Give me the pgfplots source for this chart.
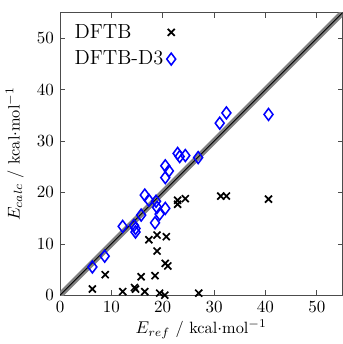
\documentclass[border=0pt]{standalone}
\usepackage{pgfplots}
\pgfplotsset{compat=1.18}
\begin{document}
\begin{tikzpicture}
\begin{axis}[
  name=ax,
  scale only axis,
  width=166pt, height=166pt,
  xmin=0, xmax=55, ymin=0, ymax=55,
  xtick={0,10,20,30,40,50}, ytick={0,10,20,30,40,50},
  tick align=inside,
  tick pos=both,
  major tick length=2.8pt,
  axis line style={gray!60!black, line width=0.5pt},
  every tick/.style={gray!60!black, line width=0.4pt},
  label style={font=\fontsize{9.6}{11}\selectfont},
  xlabel={$E_{ref}$ / kcal$\cdot$mol$^{-1}$},
  ylabel={$E_{calc}$ / kcal$\cdot$mol$^{-1}$},
  xlabel style={yshift=2.5pt},
  ylabel style={yshift=1pt},
  legend plot pos=right,
  legend cell align=left,
  legend style={draw=none, fill=none, font=\fontsize{12}{14}\selectfont, at={(0.02,0.985)}, anchor=north west, row sep=2pt},
  clip=true,
]
\addplot[gray, line width=3.5pt, forget plot] coordinates {(0,0) (55,55)};
\addplot[black, line width=0.5pt, forget plot] coordinates {(0,0) (55,55)};
\addplot[only marks, mark=x, mark size=2.9pt, black, line width=1pt] coordinates {
(6.3,1.2) (8.8,4.0) (12.2,0.7) (14.5,1.5) (14.7,1.2) (16.5,0.7) (15.8,3.6)
(18.5,3.8) (19.4,0.4) (20.4,0.0) (27.0,0.4) (17.3,10.8) (18.9,11.7) (20.7,11.4)
(18.9,8.6) (20.5,6.2) (21.0,5.7) (22.9,18.5) (24.4,18.8) (22.9,17.7)
(31.3,19.3) (32.4,19.3) (40.6,18.7)
};
\addlegendentry{DFTB}
\addplot[only marks, mark=diamond, mark size=3.5pt, blue, line width=0.9pt] coordinates {
(6.3,5.5) (8.7,7.6) (12.2,13.4) (14.4,13.6) (14.7,13.0) (14.7,12.3)
(15.8,15.6) (16.5,19.5) (17.3,18.5) (18.7,18.3) (19.4,15.8) (18.9,17.1)
(18.5,14.1) (20.5,16.9) (20.5,25.2) (21.2,24.2) (20.5,22.9) (22.9,27.6)
(23.3,27.0) (24.4,27.2) (26.9,26.8) (31.1,33.5) (32.4,35.5) (40.6,35.2)
};
\addlegendentry{DFTB-D3}
\end{axis}
\path (ax.north) ++(0,7.5pt) coordinate (topspace);
\end{tikzpicture}
\end{document}
